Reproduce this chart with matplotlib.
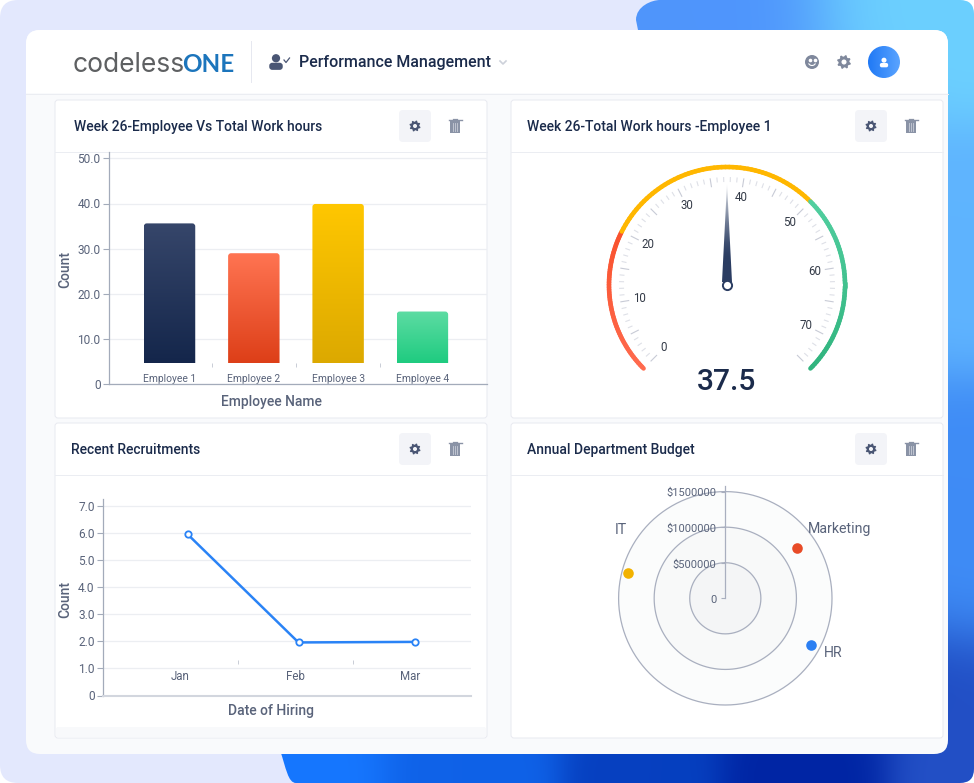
import numpy as np
import matplotlib
matplotlib.use("Agg")
import matplotlib.pyplot as plt
from matplotlib.patches import FancyBboxPatch, Circle, Polygon, Rectangle, PathPatch
from matplotlib.path import Path
from matplotlib.colors import to_rgb

plt.rcParams['font.family'] = ['Roboto', 'DejaVu Sans']

# ---------- data ----------
employees = ['Employee 1', 'Employee 2', 'Employee 3', 'Employee 4']
work_hours = [35.6, 29.0, 39.9, 16.1]
bar_floor = 4.7
bar_ticks = [0, 10, 20, 30, 40, 50]
bar_ticklabels = ['0', '10.0', '20.0', '30.0', '40.0', '50.0']

gauge_value = 37.5
gauge_min, gauge_max = 0, 75
gauge_bands = [(0, 20), (20, 50), (50, 75)]
gauge_labels = [0, 10, 20, 30, 40, 50, 60, 70]

months = ['Jan', 'Feb', 'Mar']
month_pos = [0, 1, 2]
point_pos = [0.067, 1.03, 2.047]
recruits = [5.95, 1.96, 1.98]
line_ticks = [0, 1, 2, 3, 4, 5, 6, 7]
line_ticklabels = ['0', '1.0', '2.0', '3.0', '4.0', '5.0', '6.0', '7.0']

departments = ['Marketing', 'HR', 'IT']
dept_angle = [54.7, 118.8, 284.4]
dept_budget = [1227000, 1367000, 1413000]
budget_ticks = [0, 500000, 1000000, 1500000]
budget_labels = ['0', '$500000', '$1000000', '$1500000']

# ---------- layout ----------
W, H = 974, 783
fig = plt.figure(figsize=(W / 100, H / 100), dpi=100, facecolor='white')
NAVY = '#1B2B4B'
GREY = '#59637A'


def ax_px(l, t, r, b, **kw):
    return fig.add_axes([l / W, 1 - b / H, (r - l) / W, (b - t) / H], **kw)


bg = ax_px(0, 0, W, H, zorder=0)
bg.set_xlim(0, W)
bg.set_ylim(H, 0)
bg.axis('off')


def rrect(a, l, t, r, b, rad, fc, ec='none', lw=0, z=1):
    p = FancyBboxPatch((l, t), r - l, b - t, boxstyle=f'round,pad=0,rounding_size={rad}',
                       fc=fc, ec=ec, lw=lw, zorder=z)
    a.add_patch(p)
    return p


# page background with rounded corners
rrect(bg, 0, 0, W, H, 18, '#E3E8FD', z=0.5)

# blue shape with a smooth gradient
ctrl = np.array([[640, 0], [974, 0], [974, 250], [974, 500], [974, 783], [800, 783], [640, 783], [480, 783], [290, 783], [640, 60]], float)
cols = np.array([to_rgb(c) for c in ['#4F95FC', '#6CD0FF', '#5FB4FF', '#3F8CF6', '#2350C6', '#0025A4', '#0640C0', '#0F62E8', '#1677FF', '#4F95FC']])
yy, xx = np.mgrid[0:H:2, 0:W:2]
d = np.stack([((xx - c[0]) ** 2 + (yy - c[1]) ** 2 + 1) ** -2.0 for c in ctrl])
img = np.tensordot(d, cols, axes=([0], [0])) / d.sum(0)[..., None]
verts = [(636, 20), (636, 6), (652, 0), (660, 0), (960, 0), (974, 0), (974, 14), (974, 769), (974, 783), (960, 783),
         (296, 783), (288, 783), (286, 768), (280, 750), (640, 40), (636, 20)]
codes = [1, 4, 4, 4, 2, 3, 3, 2, 3, 3, 2, 4, 4, 4, 2, 2]
blue = PathPatch(Path(verts, codes), fc='none', ec='none', transform=bg.transData)
bg.add_patch(blue)
im = bg.imshow(img, extent=(0, W, H, 0), aspect='auto', zorder=0.8)
im.set_clip_path(blue)
bg.set_xlim(0, W)
bg.set_ylim(H, 0)

# main card
rrect(bg, 26, 30, 948, 754, 14, '#F9FAFC', z=1)
rrect(bg, 26, 30, 948, 93, 14, 'white', z=1.1)
bg.add_patch(Rectangle((26, 60), 922, 33, fc='white', ec='none', zorder=1.1))
bg.plot([26, 948], [93.5, 93.5], color='#EBEDF2', lw=0.7, zorder=1.2)
bg.plot([250.5, 250.5], [41, 82], color='#E6E8F0', lw=0.7, zorder=1.2)

# logo
bg.text(73, 72, 'codeless', family='Inter', fontsize=19.0, color='#5E6062', va='baseline', ha='left', zorder=2)
bg.text(182.5, 72, 'ONE', family='Lato', fontsize=17.4, color='#1C75BC', va='baseline', ha='left', weight='bold', zorder=2)


def person(x, y, s, color, z=2):
    bg.add_patch(Circle((x, y - 0.5 * s), 0.55 * s, fc=color, ec='none', zorder=z))
    rrect(bg, x - 0.9 * s, y + 0.1 * s, x + 0.9 * s, y + 1.05 * s, 0.4 * s, color, z=z)


def gear(x, y, r, color, hole):
    n = 8
    a = np.linspace(0, 2 * np.pi, n * 4, endpoint=False) + np.pi / 8 - np.pi / 16
    rad = np.tile([1.0, 1.0, 0.78, 0.78], n) * r
    bg.add_patch(Polygon(np.c_[x + rad * np.cos(a), y + rad * np.sin(a)], fc=color, ec='none', zorder=2))
    bg.add_patch(Circle((x, y), 0.36 * r, fc=hole, ec='none', zorder=2.1))


def trash(x, y, color):
    bg.add_patch(Rectangle((x - 5, y - 5), 10, 12, fc=color, ec='none', zorder=2))
    bg.plot([x - 6.5, x + 6.5], [y - 6, y - 6], color=color, lw=1.0, zorder=2)
    bg.plot([x - 2, x + 2], [y - 7.5, y - 7.5], color=color, lw=0.9, zorder=2)
    for dx in (-2.2, 0, 2.2):
        bg.plot([x + dx, x + dx], [y - 3, y + 5], color='#C9CDD8', lw=0.6, zorder=2.1)


# header
person(276, 62, 7.5, '#4A5674')
bg.plot([284, 286, 289.5], [60, 62.5, 58], color='#4A5674', lw=0.9, zorder=2)
bg.text(299, 62.5, 'Performance Management', fontsize=11.5, color=NAVY, va='center', ha='left', weight=500, zorder=2)
bg.plot([500, 503, 506], [61, 64, 61], color='#CDD1DA', lw=1.2, zorder=2)
bg.add_patch(Circle((812, 62), 7, fc='#7F889C', ec='none', zorder=2))
bg.plot([809.5, 814.5], [60, 60], ls='none', marker='o', ms=1.6, color='white', zorder=2.1)
t_ = np.linspace(np.pi * 0.15, np.pi * 0.85, 12)
bg.plot(812 + 3.5 * np.cos(t_), 62.5 + 3 * np.sin(t_), color='white', lw=0.8, zorder=2.1)
gear(844, 62, 7, '#7F889C', 'white')
avatar = bg.imshow(np.linspace(0, 1, 64)[None, :, None] * (np.array(to_rgb('#5AA4FF')) - np.array(to_rgb('#2079F5'))) + np.array(to_rgb('#2079F5')),
                   extent=(868, 900, 78, 46), aspect='auto', zorder=2)
circ = Circle((884, 62), 16, transform=bg.transData, fc='none', ec='none')
bg.add_patch(circ)
avatar.set_clip_path(circ)
bg.set_xlim(0, W)
bg.set_ylim(H, 0)
person(884, 62.5, 4.6, 'white', z=2.2)

# panels
panels = [(55, 100, 487, 418, 'Week 26-Employee Vs Total Work hours', 74),
          (511, 100, 943, 418, 'Week 26-Total Work hours -Employee 1', 527),
          (55, 423, 487, 738, 'Recent Recruitments', 71),
          (511, 423, 943, 738, 'Annual Department Budget', 527)]
for l, t, r, b, title, tx in panels:
    rrect(bg, l, t, r, b, 3, 'white', ec='#E8EAF0', lw=0.7, z=1.5)
    bg.plot([l, r], [t + 51.5, t + 51.5], color='#EBEDF2', lw=0.7, zorder=1.6)
    bg.text(tx, t + 27, title, fontsize=10, color=NAVY, va='center', ha='left', weight=500, zorder=2)
    bx = r - 88
    rrect(bg, bx, t + 10, bx + 32, t + 42, 4, '#F3F4F8', z=1.7)
    gear(bx + 16, t + 26, 5.6, '#4A5674', '#F3F4F8')
    trash(bx + 56, t + 26, '#8A93A6')
rrect(bg, 56, 727, 486, 737.5, 2, '#F8F9FB', z=1.6)


def style_cartesian(ax):
    ax.patch.set_alpha(0)
    ax.spines[['top', 'right']].set_visible(False)
    ax.spines[['left', 'bottom']].set_color('#A3ABBA')
    ax.spines[['left', 'bottom']].set_linewidth(0.9)
    ax.yaxis.grid(True, color='#ECEEF2', lw=0.9)
    ax.set_axisbelow(True)


# ---------- bar chart ----------
ax = ax_px(109, 152, 487, 384.3, zorder=1)
style_cartesian(ax)
x_pos = np.arange(len(employees))
bar_top = (384.3 - 152) / 4.52
bar_cols = [('#36466A', '#14264B'), ('#FF7452', '#DD3F18'), ('#FFC700', '#DCA900'), ('#5DDCA3', '#1FCB80')]
bars = ax.bar(x_pos, np.array(work_hours) - bar_floor, bottom=bar_floor, width=0.61, color='none', zorder=2)
ax.set_xlim(-0.718, 3.766)
ax.set_ylim(0, bar_top)
rx, ry = 3 / 84.3, 3 / 4.52
for rect, (c0, c1) in zip(bars, bar_cols):
    x0, x1 = rect.get_x(), rect.get_x() + rect.get_width()
    y0, y1 = rect.get_y(), rect.get_y() + rect.get_height()
    grad = np.linspace(0, 1, 128)[:, None, None] * (np.array(to_rgb(c1)) - np.array(to_rgb(c0))) + np.array(to_rgb(c0))
    g = ax.imshow(grad, extent=(x0, x1, y0, y1), origin='upper', aspect='auto', zorder=2)
    clip = Path([(x0, y0), (x0, y1 - ry), (x0, y1), (x0 + rx, y1), (x1 - rx, y1), (x1, y1), (x1, y1 - ry), (x1, y0), (x0, y0)],
                [1, 2, 3, 3, 2, 3, 3, 2, 79])
    g.set_clip_path(clip, transform=ax.transData)
ax.set_xlim(-0.718, 3.766)
ax.set_ylim(0, bar_top)
ax.set_yticks(bar_ticks, bar_ticklabels)
ax.tick_params(axis='y', length=4, width=0.8, color='#A3ABBA', labelcolor=GREY, labelsize=8.6, pad=2)
ax.set_xticks(x_pos, employees)
ax.tick_params(axis='x', length=0, labelcolor=GREY, labelsize=7.4, pad=-7.4)
ax.vlines([0.5, 1.5, 2.5], 3.8, 4.65, color='#C9CDD6', lw=0.7)
ax.set_xlabel('Employee Name', fontsize=10, color=GREY, weight=500, va='center')
ax.xaxis.set_label_coords((271 - 109) / 378, (384.3 - 402) / 232.3)
ax.set_ylabel('Count', fontsize=10, color=GREY, weight=500, va='center')
ax.yaxis.set_label_coords((65 - 109) / 378, (384.3 - 270) / 232.3)

# ---------- gauge ----------
cx, cy, R = 727, 285, 130
gx = ax_px(cx - R, cy - R, cx + R, cy + R, projection='polar', zorder=1)
gx.set_theta_zero_location('N')
gx.set_theta_direction(-1)
gx.set_ylim(0, R)
gx.axis('off')


def th(v):
    return np.deg2rad((v - 37.5) * 3.6)


for v in np.arange(gauge_min, gauge_max + 1):
    major = v % 5 == 0
    gx.plot([th(v)] * 2, [99 if major else 103, 108], color='#C8CBD6' if major else '#DEE0E7', lw=0.8, solid_capstyle='butt')
for v in gauge_labels:
    gx.text(th(v), 89, str(v), fontsize=8.3, color='#333A47', ha='center', va='center')

band_cols = [('#FF6B4F', '#F9522E'), ('#FFB700', '#FFB700'), ('#52CFA0', '#30B47E')]
for (a, b), (c0, c1) in zip(gauge_bands, band_cols):
    vals = np.linspace(a, b, 60)
    c0, c1 = np.array(to_rgb(c0)), np.array(to_rgb(c1))
    for i in range(len(vals) - 1):
        f = i / (len(vals) - 2)
        gx.plot(th(vals[i:i + 2]), [118.0, 118.0], color=c0 + (c1 - c0) * f, lw=3.3, solid_capstyle='round')

# ---------- line chart ----------
lx = ax_px(103, 499, 471, 695.5, zorder=1)
style_cartesian(lx)
lx.spines['bottom'].set_color('#D2D6DE')
lx.spines['bottom'].set_linewidth(1.5)
lx.plot(point_pos, recruits, color='#2A83F6', lw=1.8, marker='o', ms=4.6, mfc='white', mec='#2A83F6', mew=1.3, zorder=3)
lx.set_xlim(-0.67, 2.53)
lx.set_ylim(0, 196.5 / 27.07)
lx.set_yticks(line_ticks, line_ticklabels)
lx.tick_params(axis='y', length=4, width=0.8, color='#A3ABBA', labelcolor=GREY, labelsize=8.6, pad=2)
lx.set_xticks(month_pos, months)
lx.tick_params(axis='x', length=0, labelcolor=GREY, labelsize=8.3, pad=-18.6)
lx.vlines([0.5, 1.5], 1.16, 1.3, color='#C9CDD6', lw=0.7)
lx.set_xlabel('Date of Hiring', fontsize=10, color=GREY, weight=500, va='center')
lx.xaxis.set_label_coords((270.5 - 103) / 368, (695.5 - 711) / 196.5)
lx.set_ylabel('Count', fontsize=10, color=GREY, weight=500, va='center')
lx.yaxis.set_label_coords((65 - 103) / 368, (695.5 - 600) / 196.5)

# ---------- radar ----------
rcx, rcy, rR = 725.3, 598.3, 112
rx_ = ax_px(rcx - rR, rcy - rR, rcx + rR, rcy + rR, projection='polar', zorder=1)
rx_.set_theta_zero_location('N')
rx_.set_theta_direction(-1)
rmax = 1500000 / 106.7 * rR
rx_.set_ylim(0, rmax)
rx_.axis('off')
theta = np.linspace(0, 2 * np.pi, 361)
for v, fc in zip(budget_ticks[:0:-1], ['#FBFCFC', '#F8F9F9', '#F4F5F6']):
    rx_.fill_between(theta, 0, v, color=fc, lw=0)
    rx_.plot(theta, np.full_like(theta, v), color='#A9AFBF', lw=0.9)
rx_.plot([0, 0], [0, rmax], color='#A9AFBF', lw=0.9, clip_on=False)
for v, lab in zip(budget_ticks, budget_labels):
    rx_.plot([0], [v], marker=0, ms=3, mew=0.8, color='#A9AFBF', clip_on=False)
    rx_.annotate(lab, (0, v), xytext=(-6.5, -1.2), textcoords='offset points', ha='right', va='center', fontsize=8, color=GREY)
for ang, val, c in zip(dept_angle, dept_budget, ['#E84B27', '#2B7FF2', '#F2B200']):
    rx_.scatter(np.deg2rad(ang), val, s=58, color=c, lw=0, zorder=4, clip_on=False)

# overlay text, needle
top = ax_px(0, 0, W, H, zorder=5)
top.set_xlim(0, W)
top.set_ylim(H, 0)
top.axis('off')
top.patch.set_alpha(0)

tip_r = 101.0
nt = th(gauge_value)
navy = np.array(to_rgb('#2B3D62'))
fade = np.clip((np.linspace(0, 1, 128) - 0.3) / 0.7, 0, 1) ** 1.4
needle_img = (navy[None, :] + (1 - navy)[None, :] * fade[:, None] * 0.9)[:, None, :]
nimg = top.imshow(needle_img[::-1], extent=(cx - 8, cx + 8, cy + 4, cy - tip_r), origin='upper', aspect='auto', zorder=1)
side = np.arctan2(5, 3)
rad = np.hypot(5, 3)
npath = Path([(nt - side, rad), (nt, tip_r), (nt + side, rad), (nt - side, rad)], [1, 2, 2, 79])
nimg.set_clip_path(npath, transform=gx.transData)
top.set_xlim(0, W)
top.set_ylim(H, 0)
top.plot(cx, cy, marker='o', ms=6.6, mfc='white', mec='#2B3D62', mew=1.4, zorder=2)

top.text(727, 382, f'{gauge_value}', fontsize=21.5, color=NAVY, ha='center', va='center', weight=500)
for name, px, py in zip(departments, [839.5, 833, 621], [529, 653, 530]):
    top.text(px, py, name, fontsize=10.2, color=GREY, ha='center', va='center')

fig.savefig('out.png', dpi=100, facecolor='white')
